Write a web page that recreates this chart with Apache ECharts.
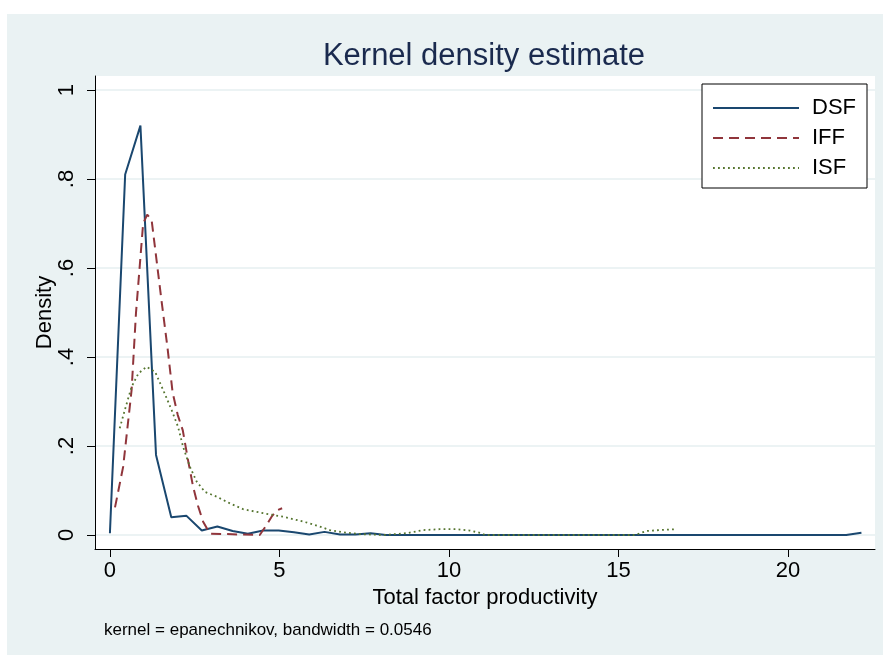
<!DOCTYPE html>
<html>
<head>
<meta charset="utf-8">
<script src="https://cdn.jsdelivr.net/npm/echarts@6/dist/echarts.min.js"></script>
<style>
  html, body { margin: 0; padding: 0; background: #ffffff; }
  #wrap { position: relative; width: 883px; height: 655px; background: #ffffff; }
  #region { position: absolute; left: 7px; top: 14px; right: 0; bottom: 0; background: #eaf2f3; }
  #chart { position: absolute; left: 0; top: 0; width: 883px; height: 655px; }
</style>
</head>
<body>
<div id="wrap">
  <div id="region"></div>
  <div id="chart"></div>
</div>
<script>
// Kernel density estimates of total factor productivity, by firm type
const seriesNames = ['DSF', 'IFF', 'ISF'];

const dsfX = [0.00, 0.45, 0.90, 1.36, 1.81, 2.26, 2.71, 3.17, 3.62, 4.07, 4.52, 4.98, 5.43, 5.88, 6.33, 6.79, 7.24, 7.69, 8.14, 21.72, 22.17];
const dsfY = [0.004, 0.810, 0.920, 0.180, 0.040, 0.043, 0.010, 0.019, 0.009, 0.003, 0.010, 0.010, 0.006, 0.001, 0.007, 0.001, 0.001, 0.004, 0.000, 0.000, 0.005];

const iffX = [0.15, 0.39, 0.64, 0.77, 0.98, 1.10, 1.23, 1.52, 1.70, 1.85, 2.00, 2.15, 2.30, 2.45, 2.60, 2.75, 2.95, 3.00, 4.42, 4.60, 4.77, 4.92, 5.08];
const iffY = [0.062, 0.153, 0.326, 0.500, 0.700, 0.720, 0.708, 0.528, 0.420, 0.320, 0.270, 0.235, 0.170, 0.110, 0.065, 0.030, 0.003, 0.000, 0.000, 0.020, 0.041, 0.055, 0.060];

const isfX = [0.29, 0.44, 0.64, 0.84, 1.08, 1.33, 1.57, 1.82, 2.01, 2.16, 2.36, 2.56, 2.80, 3.15, 3.54, 3.93, 4.52, 5.11, 5.60, 5.90, 6.19, 6.49, 6.88, 7.37, 8.06, 8.75, 9.24, 9.73, 10.23, 10.62, 10.96, 11.06, 15.49, 15.83, 16.22, 16.72];
const isfY = [0.240, 0.281, 0.333, 0.363, 0.378, 0.367, 0.326, 0.281, 0.243, 0.198, 0.153, 0.120, 0.097, 0.086, 0.071, 0.058, 0.049, 0.041, 0.032, 0.026, 0.019, 0.011, 0.006, 0.002, 0.000, 0.004, 0.011, 0.013, 0.013, 0.010, 0.004, 0.000, 0.000, 0.009, 0.011, 0.013];

const xTicks = [0, 5, 10, 15, 20];
const yTicks = [0, 0.2, 0.4, 0.6, 0.8, 1];
const yTickLabels = ['0', '.2', '.4', '.6', '.8', '1'];

const FONT = "'Liberation Sans', Arial, sans-serif";
const colors = ['#1a476f', '#90353b', '#55752f'];

function pairs(xs, ys) { return xs.map((x, i) => [x, ys[i]]); }

const chart = echarts.init(document.getElementById('chart'), null, { renderer: 'canvas' });

chart.setOption({
  backgroundColor: 'transparent',
  animation: false,
  textStyle: { fontFamily: FONT },
  title: [
    {
      text: 'Kernel density estimate',
      left: 479, top: 36, textAlign: 'center',
      textStyle: { fontFamily: FONT, fontSize: 31, fontWeight: 'normal', color: '#1a2a4e' }
    },
    {
      text: 'kernel = epanechnikov, bandwidth = 0.0546',
      left: 99, top: 617,
      textStyle: { fontFamily: FONT, fontSize: 17, fontWeight: 'normal', color: '#000' }
    }
  ],
  legend: {
    data: seriesNames,
    orient: 'vertical',
    left: 702, top: 84,
    padding: [13, 11, 9, 10],
    itemWidth: 86, itemHeight: 14, itemGap: 8,
    backgroundColor: '#ffffff',
    borderColor: '#000000', borderWidth: 1, borderRadius: 0,
    itemStyle: { opacity: 0 },
    textStyle: { fontFamily: FONT, fontSize: 22, color: '#000', padding: [0, 0, 0, 8] }
  },
  grid: {
    left: 95, right: 8, top: 76, bottom: 106,
    show: true, backgroundColor: '#ffffff', borderWidth: 0
  },
  xAxis: {
    type: 'value', min: -0.44, max: 22.57,
    name: 'Total factor productivity', nameLocation: 'middle', nameGap: 36,
    nameTextStyle: { fontFamily: FONT, fontSize: 22, color: '#000' },
    axisLine: { show: true, onZero: false, lineStyle: { color: '#000', width: 1 } },
    axisTick: { show: true, customValues: xTicks, length: 8, lineStyle: { color: '#000', width: 1 } },
    axisLabel: { customValues: xTicks, fontFamily: FONT, fontSize: 22, color: '#000', margin: 11 },
    splitLine: { show: false }
  },
  yAxis: {
    type: 'value', min: -0.0315, max: 1.0315,
    name: 'Density', nameLocation: 'middle', nameGap: 39, nameRotate: 90, nameMoveOverlap: false,
    nameTextStyle: { fontFamily: FONT, fontSize: 22, color: '#000' },
    axisLine: { show: true, onZero: false, lineStyle: { color: '#000', width: 1 } },
    axisTick: { show: true, customValues: yTicks, length: 8, lineStyle: { color: '#000', width: 1 } },
    axisLabel: {
      customValues: yTicks, rotate: 90, fontFamily: FONT, fontSize: 22, color: '#000', margin: 17,
      formatter: function (v) {
        for (let i = 0; i < yTicks.length; i++) if (Math.abs(yTicks[i] - v) < 1e-6) return yTickLabels[i];
        return '';
      }
    },
    splitLine: { show: true, lineStyle: { color: '#e6eff1', width: 1.5 } }
  },
  series: [
    {
      name: 'DSF', type: 'line', data: pairs(dsfX, dsfY), symbol: 'none', smooth: false,
      lineStyle: { color: colors[0], width: 2, type: 'solid' }, itemStyle: { color: colors[0] }
    },
    {
      name: 'IFF', type: 'line', data: pairs(iffX, iffY), symbol: 'none', smooth: false,
      lineStyle: { color: colors[1], width: 2, type: [10, 6] }, itemStyle: { color: colors[1] }
    },
    {
      name: 'ISF', type: 'line', data: pairs(isfX, isfY), symbol: 'none', smooth: false,
      lineStyle: { color: colors[2], width: 1.8, type: [1.8, 3.2] }, itemStyle: { color: colors[2] }
    }
  ]
});
</script>
</body>
</html>
